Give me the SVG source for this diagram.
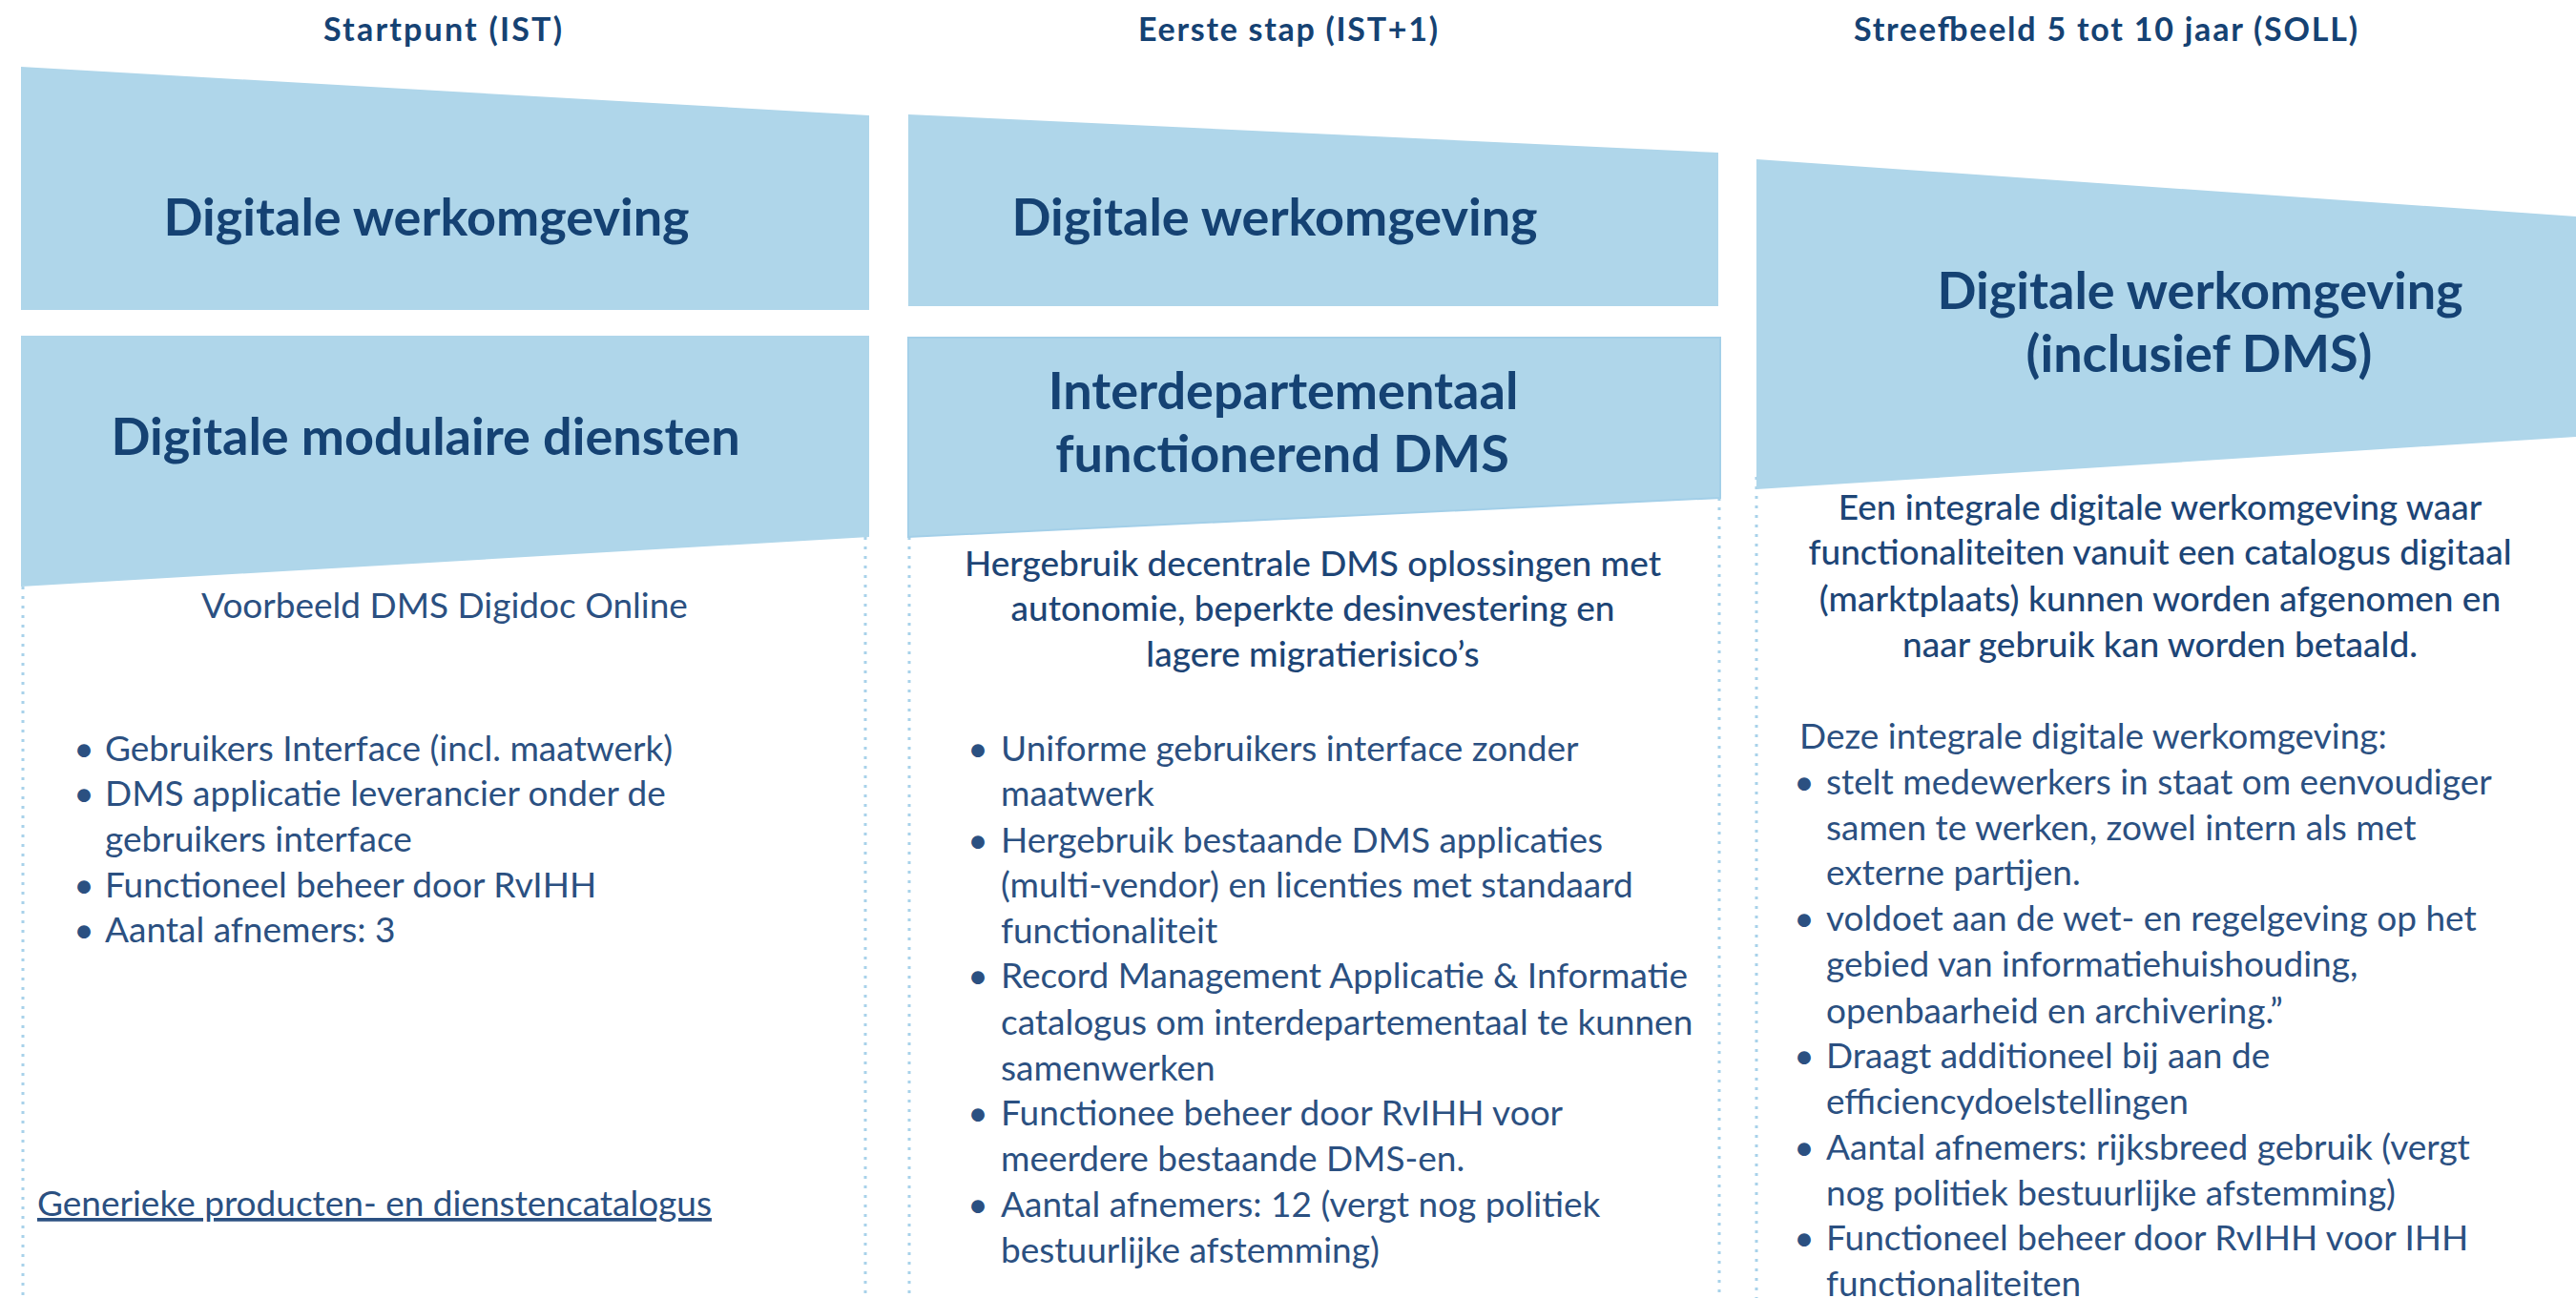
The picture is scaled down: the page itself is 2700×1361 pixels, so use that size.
<svg xmlns="http://www.w3.org/2000/svg" width="2700" height="1361" viewBox="0 0 2700 1361">
<style>
.bg{fill:#ffffff}
.box{fill:#afd6ea}
.dot{stroke:#a8d2ea;stroke-width:3;stroke-dasharray:3 7;fill:none}
.h{font-family:Lato,"Open Sans","Liberation Sans",sans-serif;font-weight:700;fill:#154273}
.t{font-size:34px;text-anchor:middle}
.b{font-size:54px;text-anchor:middle}
.p{font-family:Lato,"Open Sans","Liberation Sans",sans-serif;font-size:37px;font-weight:500;fill:#1d4576;text-anchor:middle}
.l{font-family:Lato,"Open Sans","Liberation Sans",sans-serif;font-size:37px;font-weight:400;fill:#2b5081}
.bu{font-family:Lato,"Open Sans","Liberation Sans",sans-serif;font-size:37px;fill:#2b5081;text-anchor:middle}
.u{text-decoration:underline}
</style>
<rect class="bg" x="0" y="0" width="2700" height="1361"/>

<g id="connectors">
  <line class="dot" x1="24" y1="615" x2="24" y2="1361"/>
  <line class="dot" x1="907" y1="563" x2="907" y2="1361"/>
  <line class="dot" x1="953" y1="563" x2="953" y2="1361"/>
  <line class="dot" x1="1802" y1="522" x2="1802" y2="1361"/>
  <line class="dot" x1="1841" y1="500" x2="1841" y2="1361"/>
</g>

<g id="col1-title"><text class="h t" x="464" y="43" textLength="250">Startpunt (IST)</text></g>
<g id="col2-title"><text class="h t" x="1350" y="43" textLength="314">Eerste stap (IST+1)</text></g>
<g id="col3-title"><text class="h t" x="2207" y="43" textLength="528">Streefbeeld 5 tot 10 jaar (SOLL)</text></g>

<g id="col1-werkomgeving">
  <polygon class="box" points="22,70 911,121 911,325 22,325"/>
  <text class="h b" x="447" y="247">Digitale werkomgeving</text>
</g>
<g id="col1-modulaire">
  <polygon class="box" points="22,352 911,352 911,563 22,615"/>
  <text class="h b" x="446" y="477">Digitale modulaire diensten</text>
</g>
<g id="col1-text">
  <text class="l" x="466" y="648" style="text-anchor:middle">Voorbeeld DMS Digidoc Online</text>
  <text class="bu" x="88" y="798">•</text>
  <text class="l" x="110" y="798">Gebruikers Interface (incl. maatwerk)</text>
  <text class="bu" x="88" y="845">•</text>
  <text class="l" x="110" y="845">DMS applicatie leverancier onder de</text>
  <text class="l" x="110" y="893">gebruikers interface</text>
  <text class="bu" x="88" y="941">•</text>
  <text class="l" x="110" y="941">Functioneel beheer door RvIHH</text>
  <text class="bu" x="88" y="988">•</text>
  <text class="l" x="110" y="988">Aantal afnemers: 3</text>
  <text class="l u" x="39" y="1275">Generieke producten- en dienstencatalogus</text>
</g>

<g id="col2-werkomgeving">
  <polygon class="box" points="952,120 1801,160 1801,321 952,321"/>
  <text class="h b" x="1336" y="247">Digitale werkomgeving</text>
</g>
<g id="col2-dms">
  <polygon class="box" points="952,354 1803,354 1803,522 952,563" style="stroke:#a3cfe8;stroke-width:2"/>
  <text class="h b" x="1345" y="429">Interdepartementaal</text>
  <text class="h b" x="1344" y="495">functionerend DMS</text>
</g>
<g id="col2-text">
  <text class="p" x="1376" y="604">Hergebruik decentrale DMS oplossingen met</text>
  <text class="p" x="1376" y="651">autonomie, beperkte desinvestering en</text>
  <text class="p" x="1376" y="699">lagere migratierisico’s</text>
  <text class="bu" x="1025" y="798">•</text>
  <text class="l" x="1049" y="798">Uniforme gebruikers interface zonder</text>
  <text class="l" x="1049" y="845">maatwerk</text>
  <text class="bu" x="1025" y="894">•</text>
  <text class="l" x="1049" y="894">Hergebruik bestaande DMS applicaties</text>
  <text class="l" x="1049" y="941">(multi-vendor) en licenties met standaard</text>
  <text class="l" x="1049" y="989">functionaliteit</text>
  <text class="bu" x="1025" y="1036">•</text>
  <text class="l" x="1049" y="1036">Record Management Applicatie &amp; Informatie</text>
  <text class="l" x="1049" y="1085">catalogus om interdepartementaal te kunnen</text>
  <text class="l" x="1049" y="1133">samenwerken</text>
  <text class="bu" x="1025" y="1180">•</text>
  <text class="l" x="1049" y="1180">Functionee beheer door RvIHH voor</text>
  <text class="l" x="1049" y="1228">meerdere bestaande DMS-en.</text>
  <text class="bu" x="1025" y="1276">•</text>
  <text class="l" x="1049" y="1276">Aantal afnemers: 12 (vergt nog politiek</text>
  <text class="l" x="1049" y="1324">bestuurlijke afstemming)</text>
</g>

<g id="col3-werkomgeving">
  <polygon class="box" points="1841,167 2700,227 2700,458 1841,513"/>
  <text class="h b" x="2306" y="324">Digitale werkomgeving</text>
  <text class="h b" x="2305" y="390">(inclusief DMS)</text>
</g>
<g id="col3-text">
  <text class="p" x="2264" y="545">Een integrale digitale werkomgeving waar</text>
  <text class="p" x="2264" y="592">functionaliteiten vanuit een catalogus digitaal</text>
  <text class="p" x="2264" y="641">(marktplaats) kunnen worden afgenomen en</text>
  <text class="p" x="2264" y="689">naar gebruik kan worden betaald.</text>
  <text class="l" x="1886" y="785">Deze integrale digitale werkomgeving:</text>
  <text class="bu" x="1891" y="833">•</text>
  <text class="l" x="1914" y="833">stelt medewerkers in staat om eenvoudiger</text>
  <text class="l" x="1914" y="881">samen te werken, zowel intern als met</text>
  <text class="l" x="1914" y="928">externe partijen.</text>
  <text class="bu" x="1891" y="976">•</text>
  <text class="l" x="1914" y="976">voldoet aan de wet- en regelgeving op het</text>
  <text class="l" x="1914" y="1024">gebied van informatiehuishouding,</text>
  <text class="l" x="1914" y="1073">openbaarheid en archivering.”</text>
  <text class="bu" x="1891" y="1120">•</text>
  <text class="l" x="1914" y="1120">Draagt additioneel bij aan de</text>
  <text class="l" x="1914" y="1168">efficiencydoelstellingen</text>
  <text class="bu" x="1891" y="1216">•</text>
  <text class="l" x="1914" y="1216">Aantal afnemers: rijksbreed gebruik (vergt</text>
  <text class="l" x="1914" y="1264">nog politiek bestuurlijke afstemming)</text>
  <text class="bu" x="1891" y="1311">•</text>
  <text class="l" x="1914" y="1311">Functioneel beheer door RvIHH voor IHH</text>
  <text class="l" x="1914" y="1359">functionaliteiten</text>
</g>
</svg>
